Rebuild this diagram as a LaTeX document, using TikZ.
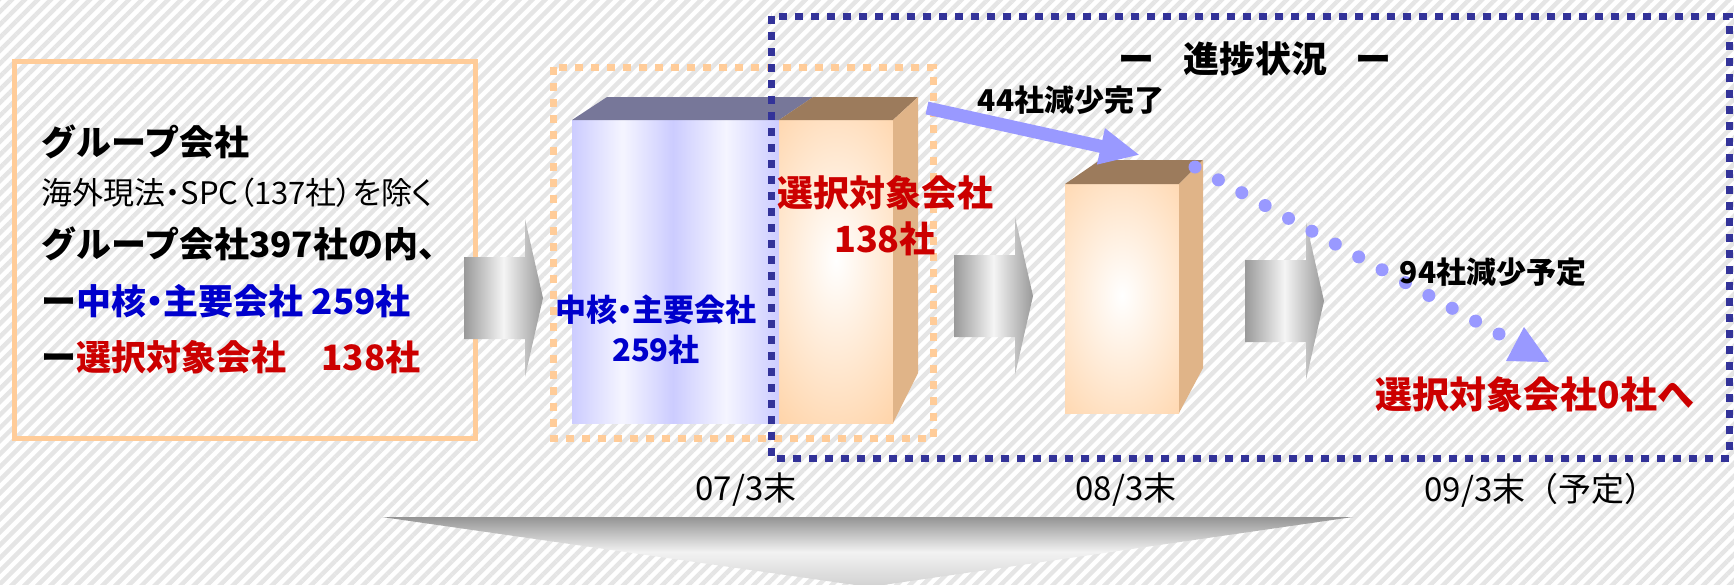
\documentclass[tikz,border=0pt]{standalone}
\usepackage{fontspec}
\setmainfont{Noto Sans CJK JP}
\newfontfamily\jpprop{Noto Sans CJK JP}[RawFeature=+palt]
\usetikzlibrary{arrows.meta,patterns.meta}
\definecolor{barblue}{HTML}{CCCCFF}
\definecolor{bluetop}{HTML}{777799}
\definecolor{barorange}{HTML}{FFCC99}
\definecolor{orangetop}{HTML}{9C7B5C}
\definecolor{orangeside}{HTML}{E0B488}
\definecolor{boxblue}{HTML}{333399}
\definecolor{arrowblue}{HTML}{9999FF}
\definecolor{txtblue}{HTML}{0000CC}
\definecolor{txtred}{HTML}{CC0000}
\begin{document}
\begin{tikzpicture}[x=0.5pt,y=-0.5pt,
mytext/.style={inner sep=0pt, anchor=west, font=\bfseries\fontsize{17.5}{21}\selectfont},
bartext/.style={inner sep=0pt, align=center, font=\bfseries\fontsize{18}{23}\selectfont},
datetext/.style={inner sep=0pt, font=\fontsize{16.5}{20}\selectfont},
steptext/.style={inner sep=0pt, font=\bfseries\fontsize{15}{18}\selectfont},
grayarrow/.style={left color=black!40, right color=black!40, middle color=black!4},
glow/.style={inner color=white, outer color=barorange},
dashbox/.style={line width=3.5pt, dash pattern=on 3.9pt off 4.1pt}]
\useasboundingbox (0,0) rectangle (1734,584);
\clip (0,0) rectangle (1734,584);
\fill[white] (0,0) rectangle (1734,584);
\fill[pattern={Lines[angle=45,distance=4.6pt,line width=2.2pt]}, pattern color=black!10] (0,0) rectangle (1734,584);
% group box
\draw[barorange, line width=2.5pt] (14,61) rectangle (475,438);
\node[mytext] (grp) at (41,142) {グループ会社};
\node[mytext, font=\jpprop\fontsize{15.5}{18}\selectfont] (excl) at (41,193) {海外現法・SPC（137社）を除く};
\node[mytext] (total) at (41,244) {グループ会社397社の内、};
\node[mytext] (core) at (41,301) {ー\textcolor{txtblue}{中核{\jpprop ・}主要会社 259社}};
\node[mytext] (sel) at (41,357) {ー\textcolor{txtred}{選択対象会社　138社}};
% gray arrows
\foreach \ax/\ay in {464/298, 954/296, 1245/301}
  \shade[grayarrow] (\ax,\ay-41) -- ++(61,0) -- ++(0,-38) -- (\ax+79,\ay)
    -- (\ax+61,\ay+79) -- ++(0,-38) -- (\ax,\ay+41) -- cycle;
\shade[top color=black!42, bottom color=black!18, middle color=black!5]
  (382,517) -- (1353,517) -- (869,587) -- cycle;
% bar 07/3
\shade[left color=barblue, right color=barblue, middle color=white!80!barblue] (572,120) rectangle (673,423);
\shade[left color=barblue, right color=barblue, middle color=white!80!barblue] (673,120) rectangle (779,423);
\fill[barorange] (779,120) rectangle (893,423);
\begin{scope}
\clip (779,120) rectangle (893,423);
\shade[glow, yscale=2] (836,130) circle (118);
\end{scope}
\fill[bluetop] (572,120) -- (607,97) -- (813,97) -- (779,120) -- cycle;
\fill[orangetop] (779,120) -- (813,97) -- (918,97) -- (893,120) -- cycle;
\fill[orangeside] (893,120) -- (918,97) -- (918,373) -- (893,423) -- cycle;
% bar 08/3
\fill[barorange] (1065,184) rectangle (1179,413);
\begin{scope}
\clip (1065,184) rectangle (1179,413);
\shade[glow, yscale=1.7] (1122,174) circle (118);
\end{scope}
\fill[orangetop] (1065,184) -- (1100,160) -- (1203,160) -- (1179,184) -- cycle;
\fill[orangeside] (1179,184) -- (1203,160) -- (1203,368) -- (1179,413) -- cycle;
% dashed frames
\draw[dashbox, barorange] (553,67) rectangle (933,438);
\draw[dashbox, boxblue] (771,16) rectangle (1729,458);
\node[bartext, txtred] (selbar) at (885,216) {選択対象会社\\138社};
\node[bartext, txtblue, font=\bfseries\fontsize{15.5}{20}\selectfont] (corebar) at (656,330) {中核{\jpprop ・}主要会社\\259社};
\node[inner sep=0pt, font=\bfseries\fontsize{18}{22}\selectfont] (prog) at (1255,59) {ー\hspace{0.8em}進捗状況\hspace{0.8em}ー};
% progress
\coordinate (done0) at (927,108);
\coordinate (done1) at (1140,155);
\draw[arrowblue, line width=6.5pt, -{Triangle[length=20pt,width=17pt]}] (done0) -- (done1);
\node[steptext] (donelbl) at (1071,100) {44社減少完了};
\coordinate (plan0) at (1195,167);
\coordinate (plan1) at (1499,334);
\draw[arrowblue, line width=6.5pt, line cap=round, dash pattern=on 0pt off 13.34pt] (plan0) -- (plan1);
\fill[arrowblue] (1524,327) -- (1549,362) -- (1506,361) -- cycle;
\node[steptext] (planlbl) at (1493,272) {94社減少予定};
\node[inner sep=0pt, txtred, font=\bfseries\fontsize{18.5}{22}\selectfont] (zero) at (1535,394) {選択対象会社0社へ};
% dates
\node[datetext] (d07) at (746,490) {07/3末};
\node[datetext] (d08) at (1126,490) {08/3末};
\node[datetext] (d09) at (1541,490) {09/3末（予定）};
\end{tikzpicture}
\end{document}
